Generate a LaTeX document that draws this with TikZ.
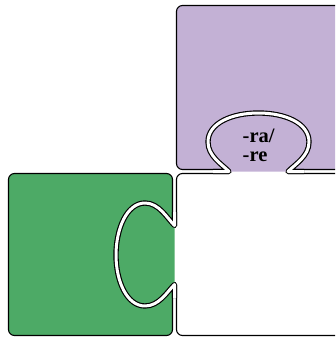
\documentclass[tikz,border=0pt]{standalone}
\usepackage{fontspec}
\setmainfont{Liberation Serif}
\definecolor{pieceviolet}{RGB}{195,177,213}
\definecolor{piecegreen}{RGB}{77,170,102}
\begin{document}
\begin{tikzpicture}[x=1pt,y=-1pt,
  piece/.style={draw=black,line width=1.1pt,rounded corners=6pt},
  seam/.style={draw=black,line width=1.15pt,double=white,double distance=3pt,line join=round}]
\useasboundingbox (0,0) rectangle (335,337);
\clip (0,0) rectangle (335,337);
% pieces
\path[piece,fill=pieceviolet] (176.5,5.5) rectangle (350,169.5);
\path[piece,fill=white] (176.5,173.5) rectangle (350,335.5);
\path[piece,fill=piecegreen] (8.5,173.5) rectangle (172.5,335.5);
% erase borders inside the necks
\fill[white] (229,171.5) rectangle (288,175.5);
\fill[white] (174.5,225.5) rectangle (178,284.5);
% tab interiors
\fill[pieceviolet] (229,171.5) .. controls (221.5,164) and (208,156) .. (208,142)
  .. controls (208,123) and (232,113) .. (258.5,113)
  .. controls (285,113) and (309,123) .. (309,142)
  .. controls (309,156) and (295.5,164) .. (288,171.5) -- cycle;
\fill[piecegreen] (174.5,225.5) .. controls (167,218) and (159,203) .. (145,203)
  .. controls (127,203) and (116,228.5) .. (116,255)
  .. controls (116,281.5) and (127,306) .. (145,306)
  .. controls (159,306) and (167,292) .. (174.5,284.5) -- cycle;
% seams
\coordinate (pa) at (213,171.5);
\coordinate (pb) at (304,171.5);
\coordinate (ga) at (174.5,212);
\coordinate (gb) at (174.5,298);
\draw[seam] (pa) -- (229,171.5) .. controls (221.5,164) and (208,156) .. (208,142)
  .. controls (208,123) and (232,113) .. (258.5,113)
  .. controls (285,113) and (309,123) .. (309,142)
  .. controls (309,156) and (295.5,164) .. (288,171.5) -- (pb);
\draw[seam] (ga) -- (174.5,225.5) .. controls (167,218) and (159,203) .. (145,203)
  .. controls (127,203) and (116,228.5) .. (116,255)
  .. controls (116,281.5) and (127,306) .. (145,306)
  .. controls (159,306) and (167,292) .. (174.5,284.5) -- (gb);
% label
\node[anchor=base west,inner sep=0pt,align=left,font=\fontsize{20.5}{19.5}\selectfont\bfseries] (lbl) at (242.5,161.5) {-ra/\\-re};
\end{tikzpicture}
\end{document}
